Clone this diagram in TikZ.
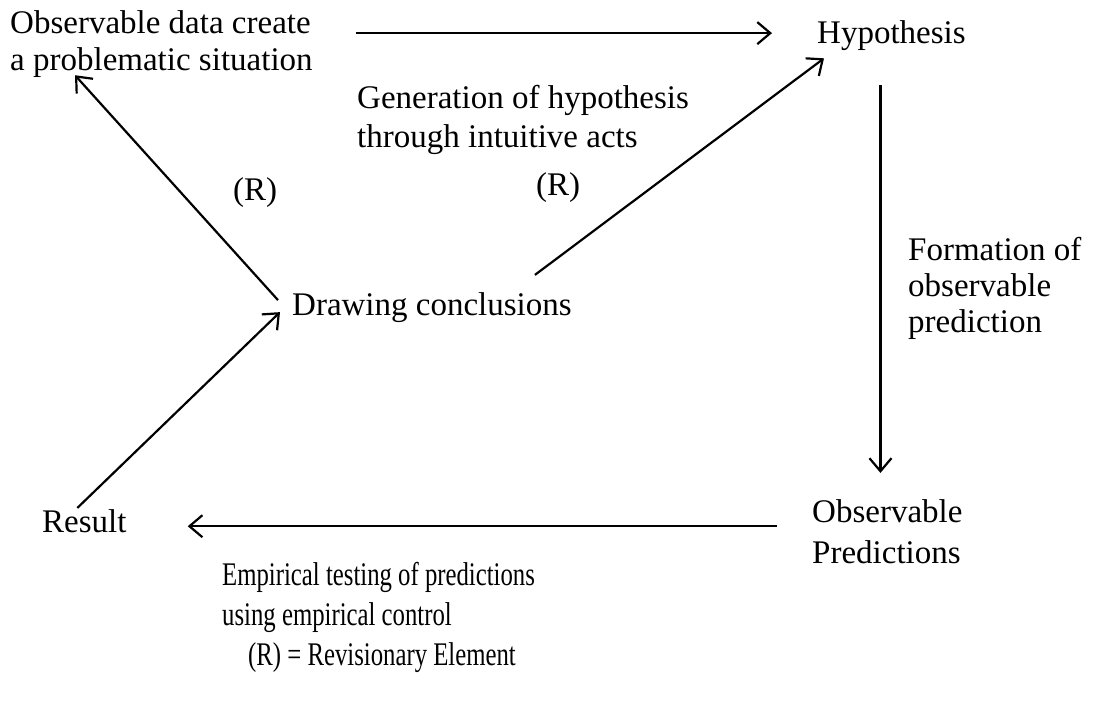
\documentclass[tikz,border=0pt]{standalone}
\usepackage{fontspec}
\setmainfont{Liberation Serif}
\newfontfamily\condfont[FakeStretch=0.75]{Liberation Serif}
\usetikzlibrary{arrows.meta}
\begin{document}
\begin{tikzpicture}[x=1pt,y=-1pt,
  lbl/.style={inner sep=0pt, anchor=base west, align=left, font=\fontsize{33}{37}\selectfont},
  condlbl/.style={inner sep=0pt, anchor=base west, align=left, font=\condfont\fontsize{33}{40}\selectfont},
  arr/.style={line width=2.2pt, -{Straight Barb[length=13pt,width=22pt,line width=2.2pt]}}]
\useasboundingbox (0,0) rectangle (1095,702);
\node[lbl] (obs) at (10,70) {Observable data create\\a problematic situation};
\node[lbl] (hyp) at (817,43) {Hypothesis};
\node[lbl, font=\fontsize{33}{38.5}\selectfont] (gen) at (357,147) {Generation of hypothesis\\through intuitive acts};
\node[lbl] (r1) at (233,200) {(R)};
\node[lbl] (r2) at (536,195) {(R)};
\node[lbl, font=\fontsize{33}{36}\selectfont] (form) at (908,332) {Formation of\\observable\\prediction};
\node[lbl] (concl) at (292,315) {Drawing conclusions};
\node[lbl] (res) at (42,532) {Result};
\node[lbl, font=\fontsize{33}{41}\selectfont] (pred) at (812,563) {Observable\\Predictions};
\node[condlbl] (emp) at (222,625) {Empirical testing of predictions\\using empirical control};
\node[condlbl] (leg) at (248,665) {(R) = Revisionary Element};
% connectors
\draw[arr, shorten <=43pt, shorten >=45pt] ([yshift=2pt]hyp.west -| obs.east) -- ([yshift=2pt]hyp.west);
\draw[arr] ([shift={(-14,-7)}]concl.west) -- ([shift={(65,-2)}]obs.south west);
\draw[arr] ([shift={(-37,-17)}]concl.north east) -- ([shift={(7,8)}]hyp.south west);
\draw[arr] ([shift={(-11,35)}]hyp.south) -- ([shift={(-11,-26)}]hyp.south |- pred.north);
\draw[arr, shorten <=35pt, shorten >=61pt] ([yshift=5pt]pred.west) -- ([yshift=5pt]pred.west -| res.east);
\draw[arr] ([shift={(-7,-1)}]res.north) -- ([shift={(-12,5)}]concl.west);
\end{tikzpicture}
\end{document}
